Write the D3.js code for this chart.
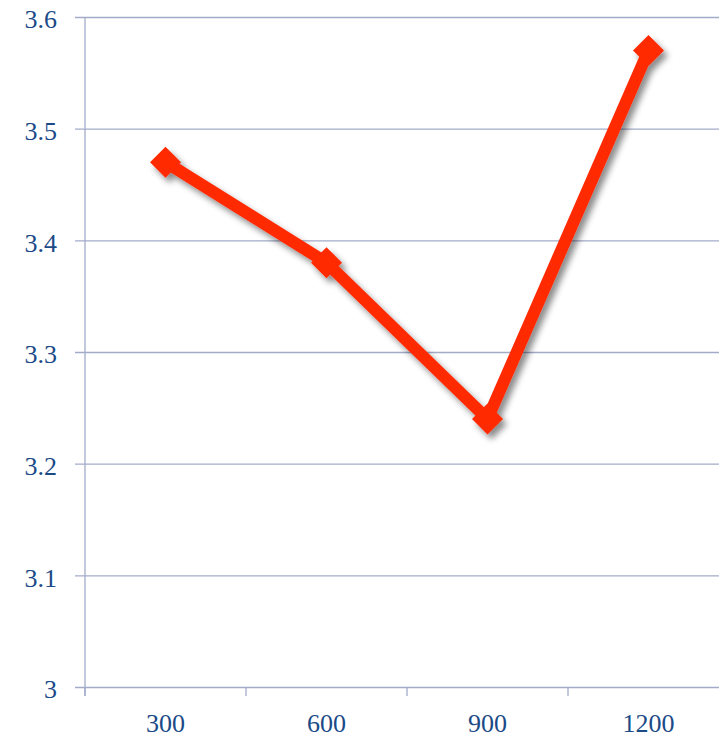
<!DOCTYPE html>
<html>
<head>
<meta charset="utf-8">
<script src="https://cdn.jsdelivr.net/npm/d3@7"></script>
<style>
  html, body { margin: 0; padding: 0; background: #ffffff; overflow: hidden; }
  svg { display: block; }
  .tick text { font-family: "Liberation Serif", "DejaVu Serif", serif; font-size: 26px; fill: #1b4a87; }
</style>
</head>
<body>
<svg id="chart" width="719" height="738"></svg>
<script>
// Series data
const categories = ["300", "600", "900", "1200"];
const values = [3.47, 3.38, 3.24, 3.57];
const yTicks = [3, 3.1, 3.2, 3.3, 3.4, 3.5, 3.6];
const yTickLabels = ["3", "3.1", "3.2", "3.3", "3.4", "3.5", "3.6"];

const svg = d3.select("#chart");
const margin = { left: 85, top: 17, right: -10, bottom: 51 };
const W = 719, H = 738;

const x = d3.scaleBand()
  .domain(categories)
  .range([margin.left, W - margin.right])
  .paddingInner(0).paddingOuter(0);

const y = d3.scaleLinear()
  .domain([3, 3.6])
  .range([H - margin.bottom, margin.top]);

const gridColor = "#a3abc9";

// Horizontal gridlines with short left ticks
const yAxis = d3.axisLeft(y)
  .tickValues(yTicks)
  .tickFormat((d, i) => yTickLabels[i])
  .tickSize(-(W - margin.left + 20))
  .tickPadding(28);

const gy = svg.append("g")
  .attr("transform", `translate(${margin.left - 10},0)`)
  .call(yAxis);
gy.select(".domain").remove();
gy.selectAll(".tick line")
  .attr("stroke", gridColor)
  .attr("stroke-width", 1.3);
gy.selectAll(".tick text")
  .attr("x", -18)
  .attr("dy", "0.42em");

// Vertical axis line
svg.append("line")
  .attr("x1", margin.left).attr("x2", margin.left)
  .attr("y1", y(3.6)).attr("y2", y(3) + 9)
  .attr("stroke", gridColor)
  .attr("stroke-width", 1.3);

// Category axis along the bottom: ticks sit on band boundaries
const boundaries = categories.map(c => x(c)).concat([x(categories[categories.length - 1]) + x.bandwidth()]);
svg.append("g")
  .selectAll("line")
  .data(boundaries)
  .join("line")
  .attr("x1", d => d).attr("x2", d => d)
  .attr("y1", y(3)).attr("y2", y(3) + 9)
  .attr("stroke", gridColor)
  .attr("stroke-width", 1.3);

svg.append("g")
  .selectAll("text")
  .data(categories)
  .join("text")
  .attr("x", d => x(d) + x.bandwidth() / 2)
  .attr("y", y(3) + 45)
  .attr("text-anchor", "middle")
  .style("font-family", '"Liberation Serif", "DejaVu Serif", serif')
  .style("font-size", "26px")
  .style("fill", "#1b4a87")
  .text(d => d);

// Soft drop shadow under the series
const defs = svg.append("defs");
const f = defs.append("filter").attr("id", "shadow")
  .attr("x", "-20%").attr("y", "-20%").attr("width", "140%").attr("height", "140%");
f.append("feDropShadow")
  .attr("dx", 4).attr("dy", 5)
  .attr("stdDeviation", 3)
  .attr("flood-color", "#000000")
  .attr("flood-opacity", 0.45);

const pts = categories.map((c, i) => [x(c) + x.bandwidth() / 2, y(values[i])]);
const red = "#ff2a00";

const series = svg.append("g").attr("filter", "url(#shadow)");
series.append("path")
  .attr("d", d3.line()(pts))
  .attr("fill", "none")
  .attr("stroke", red)
  .attr("stroke-width", 12)
  .attr("stroke-linejoin", "miter");

// Diamond markers, about 31px across
const half = 15.5;
series.selectAll("path.marker")
  .data(pts)
  .join("path")
  .attr("class", "marker")
  .attr("d", d => `M${d[0]},${d[1] - half}L${d[0] + half},${d[1]}L${d[0]},${d[1] + half}L${d[0] - half},${d[1]}Z`)
  .attr("fill", red);
</script>
</body>
</html>
